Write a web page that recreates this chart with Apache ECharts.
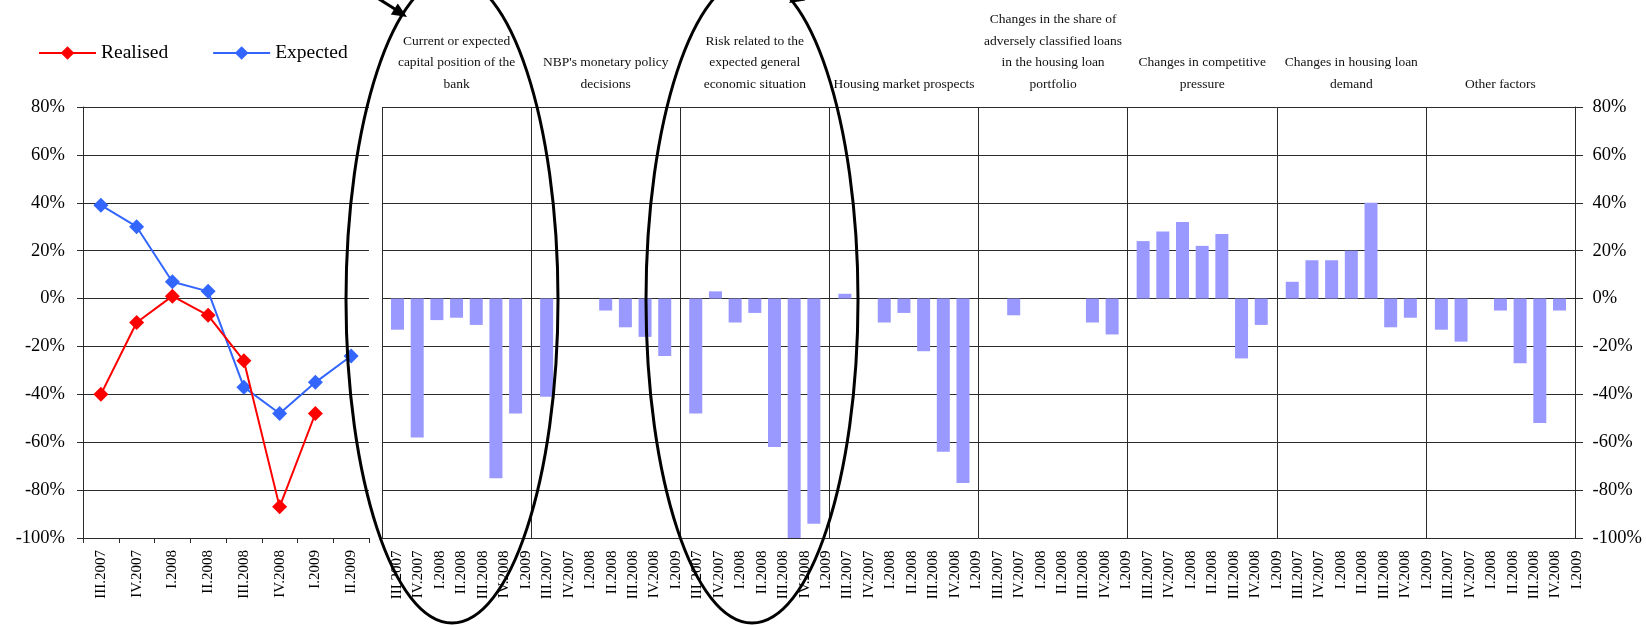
<!DOCTYPE html>
<html>
<head>
<meta charset="utf-8">
<script src="https://cdn.jsdelivr.net/npm/echarts@6/dist/echarts.min.js"></script>
<style>
	html, body { margin: 0; padding: 0; background: #fff; }
	#main { width: 1646px; height: 625px; }
</style>
</head>
<body>
<div id="main"></div>
<script>
// 左图：季度
const quarters = ['III.2007', 'IV.2007', 'I.2008', 'II.2008', 'III.2008', 'IV.2008', 'I.2009', 'II.2009'];
const realised = [-40, -10, 1, -7, -26, -87, -48, null];
const expected = [39, 30, 7, 3, -37, -48, -35, -24];

// 右图：各因素
const factorQuarters = ['III.2007', 'IV.2007', 'I.2008', 'II.2008', 'III.2008', 'IV.2008', 'I.2009'];
const factorNames = [
	'Current or expected\ncapital position of the\nbank',
	'NBP\'s monetary policy\ndecisions',
	'Risk related to the\nexpected general\neconomic situation',
	'Housing market prospects',
	'Changes in the share of\nadversely classified loans\nin the housing loan\nportfolio',
	'Changes in competitive\npressure',
	'Changes in housing loan\ndemand',
	'Other factors'
];
const capitalPosition = [-13, -58, -9, -8, -11, -75, -48];
const monetaryPolicy = [-41, null, null, -5, -12, -16, -24];
const generalRisk = [-48, 3, -10, -6, -62, -100, -94];
const housingProspects = [2, null, -10, -6, -22, -64, -77];
const adverseLoans = [null, -7, null, null, null, -10, -15];
const competition = [24, 28, 32, 22, 27, -25, -11];
const loanDemand = [7, 16, 16, 20, 40, -12, -8];
const otherFactors = [-13, -18, null, -5, -27, -52, -5];
const factorValues = [capitalPosition, monetaryPolicy, generalRisk, housingProspects,
	adverseLoans, competition, loanDemand, otherFactors];

const yMin = -100, yMax = 80, yStep = 20;

const FONT = 'Liberation Serif';
const GRID_COLOR = '#2b2b2b';
const frameLeft = 382, frameRight = 1575, plotTop = 107, plotBottom = 87;
const groupW = (frameRight - frameLeft) / factorNames.length;
const groupPad = 5.67;

const myChart = echarts.init(document.getElementById('main'), null, {renderer: 'canvas'});

let grids = [
	// 0: 折线图
	{left: 83, right: 1646 - 369, top: plotTop, bottom: plotBottom, outerBoundsMode: 'none'},
	// 1: 右侧框架（网格线 + 分隔线 + 标题）
	{left: frameLeft, right: 1646 - frameRight, top: plotTop, bottom: plotBottom, outerBoundsMode: 'none'},
	// 2: 右侧季度标签
	{left: 386.3, right: 1646 - 1587.7, top: plotTop, bottom: plotBottom, outerBoundsMode: 'none'}
];
let xAxes = [
	{
		gridIndex: 0, type: 'category', data: quarters, boundaryGap: true,
		axisLine: {show: true, onZero: false, lineStyle: {color: GRID_COLOR, width: 1}},
		axisTick: {show: true, interval: 0, length: 5, lineStyle: {color: GRID_COLOR}},
		axisLabel: {interval: 0, rotate: 90, margin: 12, fontSize: 15, fontFamily: FONT, color: '#000'},
		splitLine: {show: false}
	},
	{
		gridIndex: 1, type: 'category', data: factorNames, position: 'top', boundaryGap: true,
		axisLine: {show: false, onZero: false},
		axisTick: {show: false},
		axisLabel: {interval: 0, margin: 12, fontSize: 13.5, lineHeight: 21.5, fontFamily: FONT, color: '#111'},
		splitLine: {show: true, interval: 0, lineStyle: {color: GRID_COLOR, width: 1}}
	},
	{
		gridIndex: 2, type: 'category', boundaryGap: true,
		data: factorNames.flatMap(() => factorQuarters),
		axisLine: {show: false, onZero: false},
		axisTick: {show: false},
		axisLabel: {interval: 0, rotate: 90, margin: 12.5, fontSize: 15, fontFamily: FONT, color: '#000'},
		splitLine: {show: false}
	}
];
let yAxes = [
	{
		gridIndex: 0, type: 'value', min: yMin, max: yMax, interval: yStep,
		axisLine: {show: true, lineStyle: {color: GRID_COLOR, width: 1}},
		axisTick: {show: true, length: 6, lineStyle: {color: GRID_COLOR}},
		axisLabel: {formatter: '{value}%', margin: 18, fontSize: 18.5, fontFamily: FONT, color: '#000'},
		splitLine: {show: true, lineStyle: {color: GRID_COLOR, width: 1}}
	},
	{
		gridIndex: 1, type: 'value', position: 'right', min: yMin, max: yMax, interval: yStep,
		axisLine: {show: true, lineStyle: {color: GRID_COLOR, width: 1}},
		axisTick: {show: true, length: 8, lineStyle: {color: GRID_COLOR}},
		axisLabel: {formatter: '{value}%', margin: 17.5, fontSize: 18.5, fontFamily: FONT, color: '#000'},
		splitLine: {show: true, lineStyle: {color: GRID_COLOR, width: 1}}
	},
	{gridIndex: 2, type: 'value', min: yMin, max: yMax, show: false}
];

let series = [
	{
		name: 'Realised', type: 'line', xAxisIndex: 0, yAxisIndex: 0,
		data: realised, symbol: 'diamond', symbolSize: 15,
		itemStyle: {color: '#ff0000'}, lineStyle: {color: '#ff0000', width: 2},
		z: 5
	},
	{
		name: 'Expected', type: 'line', xAxisIndex: 0, yAxisIndex: 0,
		data: expected, symbol: 'diamond', symbolSize: 15,
		itemStyle: {color: '#3366ff'}, lineStyle: {color: '#3366ff', width: 2},
		z: 4
	}
];

// 每个因素一个小网格，柱子间距与原图一致
factorValues.forEach((vals, g) => {
	const gi = grids.length;
	grids.push({
		left: frameLeft + g * groupW + groupPad,
		width: groupW - 2 * groupPad,
		top: plotTop, bottom: plotBottom, outerBoundsMode: 'none'
	});
	xAxes.push({gridIndex: gi, type: 'category', data: factorQuarters, show: false});
	yAxes.push({gridIndex: gi, type: 'value', min: yMin, max: yMax, show: false});
	series.push({
		type: 'bar', xAxisIndex: xAxes.length - 1, yAxisIndex: yAxes.length - 1,
		data: vals, barWidth: 13,
		itemStyle: {color: '#9999ff'},
		silent: true, z: 3
	});
});

// 椭圆与箭头标注
function arrowHead(tip, dir, len, half) {
	const bx = tip[0] - dir[0] * len, by = tip[1] - dir[1] * len;
	const nx = -dir[1], ny = dir[0];
	return [tip, [bx + nx * half, by + ny * half], [bx - nx * half, by - ny * half]];
}
const d1 = [0.846, 0.533], d2 = [-0.85, 0.53];

var option = {
	animation: false,
	backgroundColor: '#fff',
	textStyle: {fontFamily: FONT},
	legend: {
		data: ['Realised', 'Expected'],
		left: 33, top: 38,
		itemWidth: 57, itemHeight: 17, itemGap: 44,
		textStyle: {fontSize: 19.5, fontFamily: FONT, color: '#000'}
	},
	grid: grids,
	xAxis: xAxes,
	yAxis: yAxes,
	series: series,
	graphic: [
		{type: 'ellipse', z: 100, shape: {cx: 452, cy: 300, rx: 106, ry: 323},
			style: {fill: 'none', stroke: '#000', lineWidth: 3}},
		{type: 'ellipse', z: 100, shape: {cx: 752, cy: 300, rx: 106, ry: 323},
			style: {fill: 'none', stroke: '#000', lineWidth: 3}},
		{type: 'line', z: 100, shape: {x1: 352, y1: -18, x2: 398, y2: 11},
			style: {stroke: '#000', lineWidth: 3}},
		{type: 'polygon', z: 100, shape: {points: arrowHead([407, 17], d1, 15, 6.5)},
			style: {fill: '#000'}},
		{type: 'line', z: 100, shape: {x1: 840, y1: -30, x2: 797, y2: -2},
			style: {stroke: '#000', lineWidth: 3}},
		{type: 'polygon', z: 100, shape: {points: arrowHead([789, 3], d2, 15, 6.5)},
			style: {fill: '#000'}}
	]
};

myChart.setOption(option);
</script>
</body>
</html>
